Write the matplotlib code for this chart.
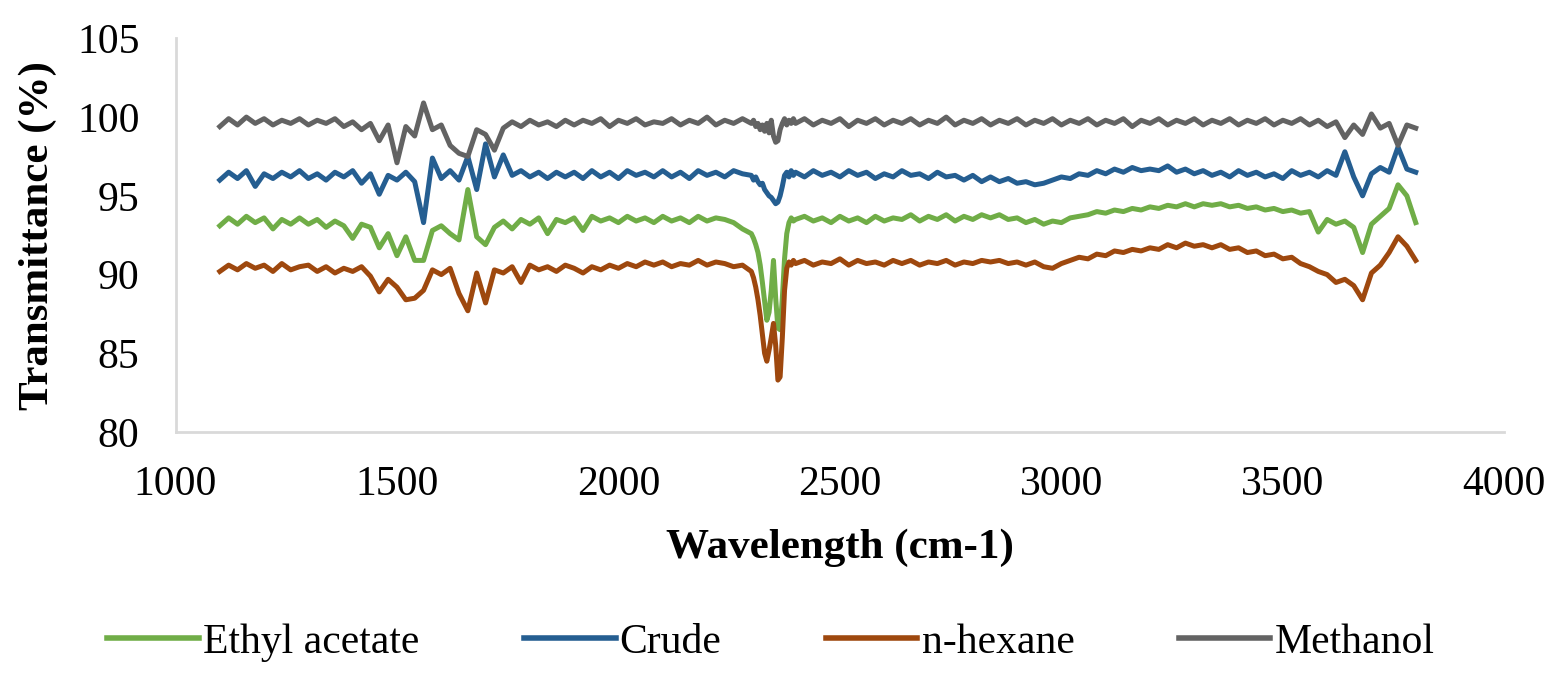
import numpy as np
import matplotlib
matplotlib.use("Agg")
import matplotlib.pyplot as plt

# 波数网格：2300-2395 区间加密，其余每 20 cm-1 一个点
wavenumber = np.concatenate([
    np.arange(1100, 2300, 20),
    np.arange(2300, 2400, 5),
    np.arange(2400, 3801, 20),
])

# Methanol（灰）
methanol = [
    99.4, 99.9, 99.5, 100.0, 99.6, 99.9, 99.5, 99.8, 99.6, 99.9,
    99.5, 99.8, 99.6, 99.9, 99.4, 99.7, 99.2, 99.6, 98.5, 99.5,
    97.1, 99.4, 98.8, 100.9, 99.2, 99.5, 98.2, 97.7, 97.5, 99.2,
    98.9, 97.9, 99.3, 99.7, 99.4, 99.8, 99.5, 99.7, 99.4, 99.8,
    99.5, 99.8, 99.6, 99.9, 99.4, 99.8, 99.6, 99.9, 99.5, 99.7,
    99.6, 99.9, 99.5, 99.8, 99.6, 100.0, 99.5, 99.8, 99.6, 99.9,
    # 2300-2395
    99.6, 99.8, 99.4, 99.6, 99.2, 99.5, 99.1, 99.6, 99.0, 99.8,
    98.8, 98.4, 98.5, 99.2, 99.6, 99.9, 99.5, 99.8, 99.6, 99.9,
    # 2400-3800
    99.6, 99.9, 99.5, 99.8, 99.6, 99.9, 99.4, 99.8, 99.6, 99.9,
    99.5, 99.8, 99.6, 99.9, 99.5, 99.8, 99.6, 100.0, 99.5, 99.8,
    99.6, 99.9, 99.5, 99.8, 99.6, 99.9, 99.5, 99.8, 99.6, 99.9,
    99.5, 99.8, 99.6, 99.9, 99.5, 99.8, 99.6, 99.9, 99.4, 99.8,
    99.6, 99.9, 99.5, 99.8, 99.6, 99.9, 99.5, 99.8, 99.6, 99.9,
    99.5, 99.8, 99.6, 99.9, 99.5, 99.8, 99.6, 99.9, 99.5, 99.8,
    99.4, 99.7, 98.7, 99.5, 98.9, 100.2, 99.3, 99.6, 98.2, 99.5,
    99.3,
]

# Crude（蓝）
crude = [
    96.0, 96.5, 96.1, 96.6, 95.6, 96.4, 96.1, 96.5, 96.2, 96.6,
    96.1, 96.4, 96.0, 96.5, 96.2, 96.6, 95.8, 96.4, 95.1, 96.3,
    96.0, 96.5, 95.9, 93.3, 97.4, 96.1, 96.6, 96.0, 97.5, 95.4,
    98.3, 96.2, 97.6, 96.3, 96.6, 96.2, 96.5, 96.1, 96.5, 96.2,
    96.5, 96.1, 96.6, 96.2, 96.5, 96.1, 96.6, 96.3, 96.5, 96.2,
    96.6, 96.2, 96.5, 96.1, 96.6, 96.3, 96.5, 96.2, 96.6, 96.4,
    # 2300-2395
    96.3, 96.0, 96.2, 95.9, 95.7, 95.8, 95.4, 95.2, 95.0, 94.9,
    94.7, 94.5, 94.6, 95.0, 95.6, 96.3, 96.5, 96.2, 96.6, 96.3,
    # 2400-3800
    96.5, 96.2, 96.6, 96.3, 96.5, 96.2, 96.6, 96.3, 96.5, 96.1,
    96.4, 96.2, 96.6, 96.3, 96.4, 96.1, 96.5, 96.2, 96.3, 96.0,
    96.3, 95.9, 96.2, 95.9, 96.1, 95.8, 95.9, 95.7, 95.8, 96.0,
    96.2, 96.1, 96.4, 96.3, 96.6, 96.4, 96.7, 96.5, 96.8, 96.6,
    96.7, 96.6, 96.9, 96.5, 96.7, 96.4, 96.6, 96.3, 96.5, 96.2,
    96.6, 96.3, 96.5, 96.2, 96.4, 96.1, 96.6, 96.3, 96.5, 96.2,
    96.6, 96.3, 97.8, 96.2, 95.0, 96.4, 96.8, 96.5, 98.1, 96.7,
    96.5,
]

# Ethyl acetate（绿）
ethyl_acetate = [
    93.1, 93.6, 93.2, 93.7, 93.3, 93.6, 92.9, 93.5, 93.2, 93.6,
    93.2, 93.5, 93.0, 93.4, 93.1, 92.3, 93.2, 93.0, 91.7, 92.6,
    91.2, 92.4, 90.9, 90.9, 92.8, 93.1, 92.6, 92.2, 95.4, 92.4,
    91.9, 93.0, 93.4, 92.9, 93.5, 93.2, 93.6, 92.6, 93.5, 93.3,
    93.6, 92.8, 93.7, 93.4, 93.6, 93.3, 93.7, 93.4, 93.6, 93.3,
    93.7, 93.4, 93.6, 93.3, 93.7, 93.4, 93.6, 93.5, 93.3, 92.9,
    # 2300-2395
    92.6, 92.3, 91.9, 91.4, 90.6, 89.5, 88.3, 87.1, 87.6, 89.0,
    90.9, 88.5, 86.6, 86.5, 88.5, 91.0, 92.6, 93.3, 93.6, 93.4,
    # 2400-3800
    93.5, 93.7, 93.4, 93.6, 93.3, 93.7, 93.4, 93.6, 93.3, 93.7,
    93.4, 93.6, 93.5, 93.8, 93.4, 93.7, 93.5, 93.8, 93.4, 93.7,
    93.5, 93.8, 93.6, 93.8, 93.5, 93.6, 93.3, 93.5, 93.2, 93.4,
    93.3, 93.6, 93.7, 93.8, 94.0, 93.9, 94.1, 94.0, 94.2, 94.1,
    94.3, 94.2, 94.4, 94.3, 94.5, 94.3, 94.5, 94.4, 94.5, 94.3,
    94.4, 94.2, 94.3, 94.1, 94.2, 94.0, 94.1, 93.9, 94.0, 92.7,
    93.5, 93.2, 93.4, 93.0, 91.4, 93.2, 93.7, 94.2, 95.7, 95.0,
    93.3,
]

# n-hexane（橙）
n_hexane = [
    90.2, 90.6, 90.3, 90.7, 90.4, 90.6, 90.2, 90.7, 90.3, 90.5,
    90.6, 90.2, 90.5, 90.1, 90.4, 90.2, 90.5, 89.9, 88.9, 89.7,
    89.2, 88.4, 88.5, 89.0, 90.3, 90.0, 90.4, 88.8, 87.7, 90.1,
    88.2, 90.3, 90.1, 90.5, 89.5, 90.6, 90.3, 90.5, 90.2, 90.6,
    90.4, 90.1, 90.5, 90.3, 90.6, 90.4, 90.7, 90.5, 90.8, 90.6,
    90.8, 90.5, 90.7, 90.6, 90.9, 90.6, 90.8, 90.7, 90.5, 90.6,
    # 2300-2395
    90.2, 89.8, 89.2, 88.4, 87.4, 86.2, 85.0, 84.5, 85.2, 86.0,
    86.9, 85.5, 83.3, 83.5, 86.0, 89.0, 90.4, 90.8, 90.6, 90.9,
    # 2400-3800
    90.7, 90.9, 90.6, 90.8, 90.7, 91.0, 90.6, 90.9, 90.7, 90.8,
    90.6, 90.9, 90.7, 90.9, 90.6, 90.8, 90.7, 90.9, 90.6, 90.8,
    90.7, 90.9, 90.8, 90.9, 90.7, 90.8, 90.6, 90.8, 90.5, 90.4,
    90.7, 90.9, 91.1, 91.0, 91.3, 91.2, 91.5, 91.4, 91.6, 91.5,
    91.7, 91.6, 91.9, 91.7, 92.0, 91.8, 91.9, 91.7, 91.9, 91.6,
    91.7, 91.4, 91.5, 91.2, 91.3, 91.0, 91.1, 90.7, 90.5, 90.2,
    90.0, 89.5, 89.7, 89.3, 88.4, 90.1, 90.6, 91.4, 92.4, 91.8,
    90.9,
]

series_names = ["Ethyl acetate", "Crude", "n-hexane", "Methanol"]
series_colors = ["#70AD47", "#255E91", "#9E480E", "#636363"]
x_ticks = [1000, 1500, 2000, 2500, 3000, 3500, 4000]
y_ticks = [80, 85, 90, 95, 100, 105]

plt.rcParams['font.family'] = ['Liberation Serif', 'DejaVu Serif']

fig = plt.figure(figsize=(15.67, 6.73), dpi=100)
ax = fig.add_axes([0.112, 0.358, 0.848, 0.585])

all_series = [ethyl_acetate, crude, n_hexane, methanol]
for name, color, values in zip(series_names, series_colors, all_series):
    ax.plot(wavenumber, values, color=color, lw=3.6, label=name)

ax.set_xlim(1000, 4000)
ax.set_ylim(80, 105)
ax.set_xticks(x_ticks)
ax.set_yticks(y_ticks)
ax.tick_params(axis='x', length=0, labelsize=30, pad=24)
ax.tick_params(axis='y', length=0, labelsize=30, pad=26)

# 只保留左边和下边的浅灰色坐标轴
for side in ['top', 'right']:
    ax.spines[side].set_visible(False)
for side in ['left', 'bottom']:
    ax.spines[side].set_color('#D9D9D9')
    ax.spines[side].set_linewidth(2)

ax.set_xlabel("Wavelength (cm-1)", fontsize=31, fontweight='bold', labelpad=18)
ax.set_ylabel("Transmittance (%)", fontsize=31, fontweight='bold', labelpad=14)

fig.legend(loc='center', bbox_to_anchor=(0.492, 0.045), ncol=4, frameon=False,
           fontsize=30, handlelength=2.2, handletextpad=0.1, columnspacing=2.5)
for line in fig.legends[0].get_lines():
    line.set_linewidth(4)

plt.savefig("out.png", dpi=100)
